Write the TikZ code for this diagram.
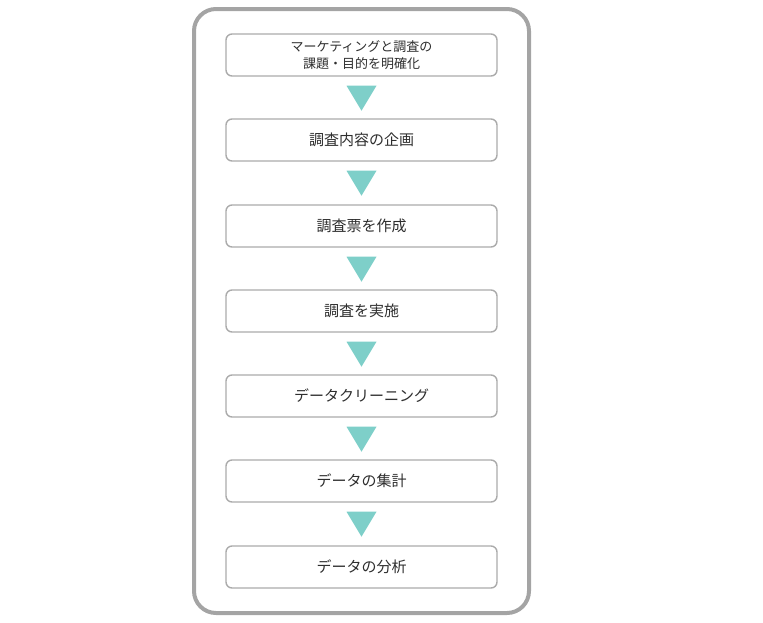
\documentclass[tikz,border=0pt]{standalone}
\usepackage{fontspec}
\setmainfont{Noto Sans CJK JP}
\definecolor{framegray}{HTML}{A4A4A4}
\definecolor{boxgray}{HTML}{ABABAB}
\definecolor{arrowteal}{HTML}{7ECFC9}
\definecolor{textgray}{HTML}{2E2E2E}
\tikzset{
  stepbox/.style={draw=boxgray, line width=1.4pt, rounded corners=6pt, fill=white,
    minimum width=271pt, minimum height=42pt, inner sep=0pt, align=center,
    text=textgray, font=\fontsize{15pt}{18pt}\selectfont},
  downtri/.style={fill=arrowteal}
}
\begin{document}
\begin{tikzpicture}[x=1pt, y=-1pt]
\useasboundingbox (0,0) rectangle (763,622);
\draw [draw=framegray, line width=4pt, rounded corners=22pt] (194,9) rectangle (529,613);
\node [stepbox, font=\fontsize{13pt}{17pt}\selectfont] (plan) at (361.5,55) {マーケティングと調査の\\課題・目的を明確化};
\node [stepbox] (design) at (361.5,140) {調査内容の企画};
\node [stepbox] (sheet) at (361.5,226) {調査票を作成};
\node [stepbox] (survey) at (361.5,311) {調査を実施};
\node [stepbox] (clean) at (361.5,396) {データクリーニング};
\node [stepbox] (total) at (361.5,481) {データの集計};
\node [stepbox] (analyze) at (361.5,567) {データの分析};
\fill [downtri] (plan.south) ++(-15,9) -- ++(30,0) -- ++(-15,25) -- cycle;
\fill [downtri] (design.south) ++(-15,9) -- ++(30,0) -- ++(-15,25) -- cycle;
\fill [downtri] (sheet.south) ++(-15,9) -- ++(30,0) -- ++(-15,25) -- cycle;
\fill [downtri] (survey.south) ++(-15,9) -- ++(30,0) -- ++(-15,25) -- cycle;
\fill [downtri] (clean.south) ++(-15,9) -- ++(30,0) -- ++(-15,25) -- cycle;
\fill [downtri] (total.south) ++(-15,9) -- ++(30,0) -- ++(-15,25) -- cycle;
\end{tikzpicture}
\end{document}
